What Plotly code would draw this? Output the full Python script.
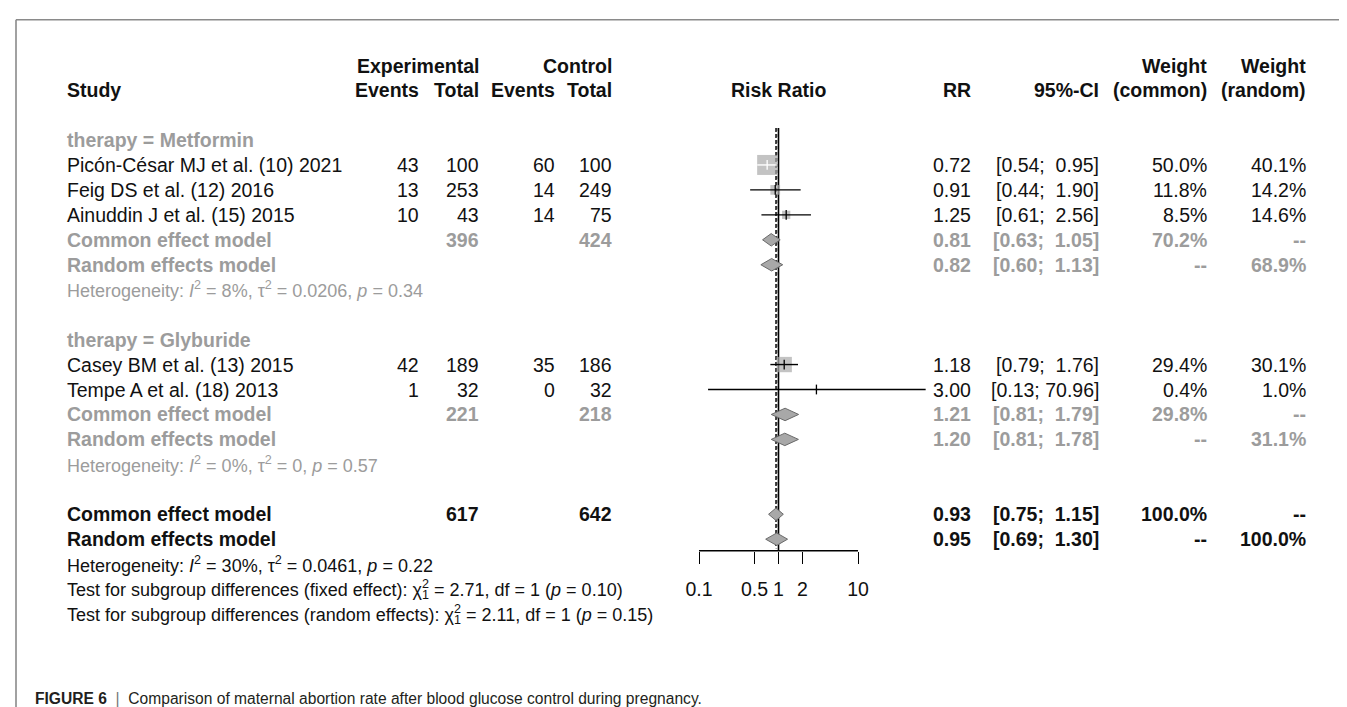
import math
import plotly.graph_objects as go

W, H = 1347, 707

# ---------------- data ----------------
study_labels = ["Picón-César MJ et al. (10) 2021", "Feig DS et al. (12) 2016",
                "Ainuddin J et al. (15) 2015", "Casey BM et al. (13) 2015",
                "Tempe A et al. (18) 2013"]
study_rows = [1, 2, 3, 9, 10]
exp_events = [43, 13, 10, 42, 1]
exp_total = [100, 253, 43, 189, 32]
ctl_events = [60, 14, 14, 35, 0]
ctl_total = [100, 249, 75, 186, 32]
rr = [0.72, 0.91, 1.25, 1.18, 3.00]
ci_lo = [0.54, 0.44, 0.61, 0.79, 0.13]
ci_hi = [0.95, 1.90, 2.56, 1.76, 70.96]
ci_text = ["[0.54;  0.95]", "[0.44;  1.90]", "[0.61;  2.56]", "[0.79;  1.76]", "[0.13; 70.96]"]
w_common = [50.0, 11.8, 8.5, 29.4, 0.4]
w_random = [40.1, 14.2, 14.6, 30.1, 1.0]

pooled_labels = ["Common effect model", "Random effects model"] * 3
pooled_rows = [4, 5, 11, 12, 15, 16]
pooled_rr = [0.81, 0.82, 1.21, 1.20, 0.93, 0.95]
pooled_lo = [0.63, 0.60, 0.81, 0.81, 0.75, 0.69]
pooled_hi = [1.05, 1.13, 1.79, 1.78, 1.15, 1.30]
pooled_ci_text = ["[0.63;  1.05]", "[0.60;  1.13]", "[0.81;  1.79]", "[0.81;  1.78]",
                  "[0.75;  1.15]", "[0.69;  1.30]"]
pooled_exp_total = ["396", "", "221", "", "617", ""]
pooled_ctl_total = ["424", "", "218", "", "642", ""]
pooled_wc = ["70.2%", "--", "29.8%", "--", "100.0%", "--"]
pooled_wr = ["--", "68.9%", "--", "31.1%", "--", "100.0%"]

group_labels = ["therapy = Metformin", "therapy = Glyburide"]
group_rows = [0, 8]
het_texts = ["Heterogeneity: <i>I</i><sup>2</sup> = 8%, τ<sup>2</sup> = 0.0206, <i>p</i> = 0.34",
             "Heterogeneity: <i>I</i><sup>2</sup> = 0%, τ<sup>2</sup> = 0, <i>p</i> = 0.57",
             "Heterogeneity: <i>I</i><sup>2</sup> = 30%, τ<sup>2</sup> = 0.0461, <i>p</i> = 0.22"]
het_rows = [6, 13, 17]
test_texts = ["Test for subgroup differences (fixed effect): χ<sup><span style='letter-spacing:-7px'>2</span></sup><sub>1</sub> = 2.71, df = 1 (<i>p</i> = 0.10)",
              "Test for subgroup differences (random effects): χ<sup><span style='letter-spacing:-7px'>2</span></sup><sub>1</sub> = 2.11, df = 1 (<i>p</i> = 0.15)"]
test_rows = [18, 19]
tick_vals = [0.1, 0.5, 1, 2, 10]
tick_text = ["0.1", "0.5", "1", "2", "10"]
common_est = 0.93
random_est = 0.95
caption_bold = "FIGURE 6"
caption_text = "Comparison of maternal abortion rate after blood glucose control during pregnancy."

# ---------------- layout geometry (pixels) ----------------
X1 = 770.5      # pixel x of RR = 1
KX = 79.5       # pixels per decade
Y0 = 132.0      # pixel y of row 0
SY = 24.95      # pixels per row
AXIS_ROW = (542.7 - Y0) / SY
TOP_ROW = (120.0 - Y0) / SY

BLACK = "#111111"
GRAY = "#9c9c9c"
FONT = "Liberation Sans"
FS = 19.5
FS_SMALL = 18

x_study = 57
x_exp_ev = 413
x_exp_tot = 473
x_ctl_ev = 549
x_ctl_tot = 606
x_rr = 965
x_ci = 1093
x_wc = 1201
x_wr = 1300

fig = go.Figure()

# reference lines
fig.add_trace(go.Scatter(x=[1, 1], y=[TOP_ROW, AXIS_ROW], mode="lines",
                         line=dict(color="black", width=1.6), hoverinfo="skip"))
fig.add_trace(go.Scatter(x=[common_est, common_est], y=[TOP_ROW, AXIS_ROW - 0.1], mode="lines",
                         line=dict(color="black", width=1.4, dash="4px,2px"), hoverinfo="skip"))
fig.add_trace(go.Scatter(x=[random_est, random_est], y=[TOP_ROW, AXIS_ROW - 0.1], mode="lines",
                         line=dict(color="#333333", width=1.2, dash="dot"), hoverinfo="skip"))

# axis line 0.1..10
fig.add_trace(go.Scatter(x=[tick_vals[0], tick_vals[-1]], y=[AXIS_ROW, AXIS_ROW], mode="lines",
                         line=dict(color="black", width=1.4), hoverinfo="skip"))

# squares
sizes = [20.0 * math.sqrt(w / 50.0) for w in w_common]
fig.add_trace(go.Scatter(x=rr, y=study_rows, mode="markers",
                         marker=dict(symbol="square", size=sizes, color="#a9a9a9",
                                     line=dict(width=0)), hoverinfo="skip"))

# CI lines (white inside a square that covers it, black otherwise)
cx, cy, wx, wy = [], [], [], []
for est, lo, hi, r, s in zip(rr, ci_lo, ci_hi, study_rows, sizes):
    half = s / 2.0
    sq_lo = est * 10 ** (-half / KX)
    sq_hi = est * 10 ** (half / KX)
    if s >= 18:
        wx += [max(lo, sq_lo), min(hi, sq_hi), None]
        wy += [r, r, None]
    else:
        cx += [lo, hi, None]
        cy += [r, r, None]
fig.add_trace(go.Scatter(x=cx, y=cy, mode="lines", line=dict(color="black", width=1.4),
                         hoverinfo="skip"))
fig.add_trace(go.Scatter(x=wx, y=wy, mode="lines", line=dict(color="white", width=1.4),
                         hoverinfo="skip"))
tick_cols = ["white" if s >= 18 else "black" for s in sizes]
fig.add_trace(go.Scatter(x=rr, y=study_rows, mode="markers",
                         marker=dict(symbol="line-ns-open", size=7, color=tick_cols,
                                     line=dict(color=tick_cols, width=1.3)),
                         hoverinfo="skip"))

# diamonds
h = 0.25
for est, lo, hi, r in zip(pooled_rr, pooled_lo, pooled_hi, pooled_rows):
    fig.add_trace(go.Scatter(x=[lo, est, hi, est, lo], y=[r, r - h, r, r + h, r],
                             mode="lines", fill="toself", fillcolor="#a8a8a8",
                             line=dict(color="#6a6a6a", width=1), hoverinfo="skip"))

# dummy trace for tick axis
fig.add_trace(go.Scatter(x=[1], y=[AXIS_ROW], xaxis="x2", mode="markers",
                         marker=dict(size=1, opacity=0), hoverinfo="skip"))

ann = []


def txt(xp, row, s, anchor="left", color=BLACK, size=FS, bold=False):
    if bold:
        s = "<b>" + s + "</b>"
    ann.append(dict(x=xp / W, xref="paper", y=row, yref="y", text=s, showarrow=False,
                    xanchor=anchor, yanchor="middle",
                    font=dict(family=FONT, size=size, color=color)))


# headers
txt(x_exp_tot, -2.95, "Experimental", "right", bold=True)
txt(x_ctl_tot, -2.95, "Control", "right", bold=True)
txt(x_wc, -2.95, "Weight", "right", bold=True)
txt(x_wr, -2.95, "Weight", "right", bold=True)
txt(x_study, -2, "Study", "left", bold=True)
txt(x_exp_ev, -2, "Events", "right", bold=True)
txt(x_exp_tot, -2, "Total", "right", bold=True)
txt(x_ctl_ev, -2, "Events", "right", bold=True)
txt(x_ctl_tot, -2, "Total", "right", bold=True)
txt(X1, -2, "Risk Ratio", "center", bold=True)
txt(x_rr, -2, "RR", "right", bold=True)
txt(x_ci, -2, "95%-CI", "right", bold=True)
txt(x_wc, -2, "(common)", "right", bold=True)
txt(x_wr, -2, "(random)", "right", bold=True)

for lab, r in zip(group_labels, group_rows):
    txt(x_study, r, lab, "left", GRAY, bold=True)

for i, r in enumerate(study_rows):
    txt(x_study, r, study_labels[i])
    txt(x_exp_ev, r, str(exp_events[i]), "right")
    txt(x_exp_tot, r, str(exp_total[i]), "right")
    txt(x_ctl_ev, r, str(ctl_events[i]), "right")
    txt(x_ctl_tot, r, str(ctl_total[i]), "right")
    txt(x_rr, r, f"{rr[i]:.2f}", "right")
    txt(x_ci, r, ci_text[i].replace("  ", "&nbsp; "), "right")
    txt(x_wc, r, f"{w_common[i]:.1f}%", "right")
    txt(x_wr, r, f"{w_random[i]:.1f}%", "right")

for i, r in enumerate(pooled_rows):
    col = GRAY if i < 4 else BLACK
    txt(x_study, r, pooled_labels[i], "left", col, bold=True)
    if pooled_exp_total[i]:
        txt(x_exp_tot, r, pooled_exp_total[i], "right", col, bold=True)
        txt(x_ctl_tot, r, pooled_ctl_total[i], "right", col, bold=True)
    txt(x_rr, r, f"{pooled_rr[i]:.2f}", "right", col, bold=True)
    txt(x_ci, r, pooled_ci_text[i].replace("  ", "&nbsp; "), "right", col, bold=True)
    txt(x_wc, r, pooled_wc[i], "right", col, bold=True)
    txt(x_wr, r, pooled_wr[i], "right", col, bold=True)

for i, r in enumerate(het_rows):
    txt(x_study, r, het_texts[i], "left", GRAY if i < 2 else BLACK, FS_SMALL)
for i, r in enumerate(test_rows):
    txt(x_study, r, test_texts[i], "left", BLACK, FS_SMALL)

# caption
ann.append(dict(x=25 / W, xref="paper", y=1 - 690 / H, yref="paper",
                text="<b>" + caption_bold + "</b>  <span style='color:#777'>|</span>  " + caption_text,
                showarrow=False, xanchor="left", yanchor="middle",
                font=dict(family=FONT, size=15.6, color="#231f20")))

# frame
shapes = [
    dict(type="line", xref="paper", yref="paper", x0=8 / W, x1=1345.5 / W,
         y0=1 - 11.7 / H, y1=1 - 11.7 / H, line=dict(color="#8a8a8a", width=1.6)),
    dict(type="line", xref="paper", yref="paper", x0=8 / W, x1=8 / W,
         y0=1 - 11.7 / H, y1=0, line=dict(color="#8a8a8a", width=1.6)),
    dict(type="line", xref="paper", yref="paper", x0=1345.5 / W, x1=1345.5 / W,
         y0=1 - 11.7 / H, y1=0, line=dict(color="#8a8a8a", width=1.6)),
]

xr = [(0 - X1) / KX, (W - X1) / KX]
fig.update_layout(
    width=W, height=H, margin=dict(l=0, r=0, t=0, b=0),
    paper_bgcolor="white", plot_bgcolor="white", showlegend=False,
    xaxis=dict(type="log", range=xr, domain=[0, 1], visible=False, fixedrange=True),
    xaxis2=dict(type="log", range=xr, overlaying="x", anchor="free",
                position=1 - 542.7 / H, showline=False, showgrid=False, zeroline=False,
                tickmode="array", tickvals=tick_vals, ticktext=tick_text,
                ticks="outside", ticklen=12, tickwidth=1.4, tickcolor="black",
                ticklabelstandoff=9,
                tickfont=dict(family=FONT, size=FS, color=BLACK), side="bottom"),
    yaxis=dict(range=[(H - Y0) / SY, (0 - Y0) / SY], domain=[0, 1], visible=False,
               fixedrange=True),
    annotations=ann, shapes=shapes,
)

fig.write_html("out.html")
